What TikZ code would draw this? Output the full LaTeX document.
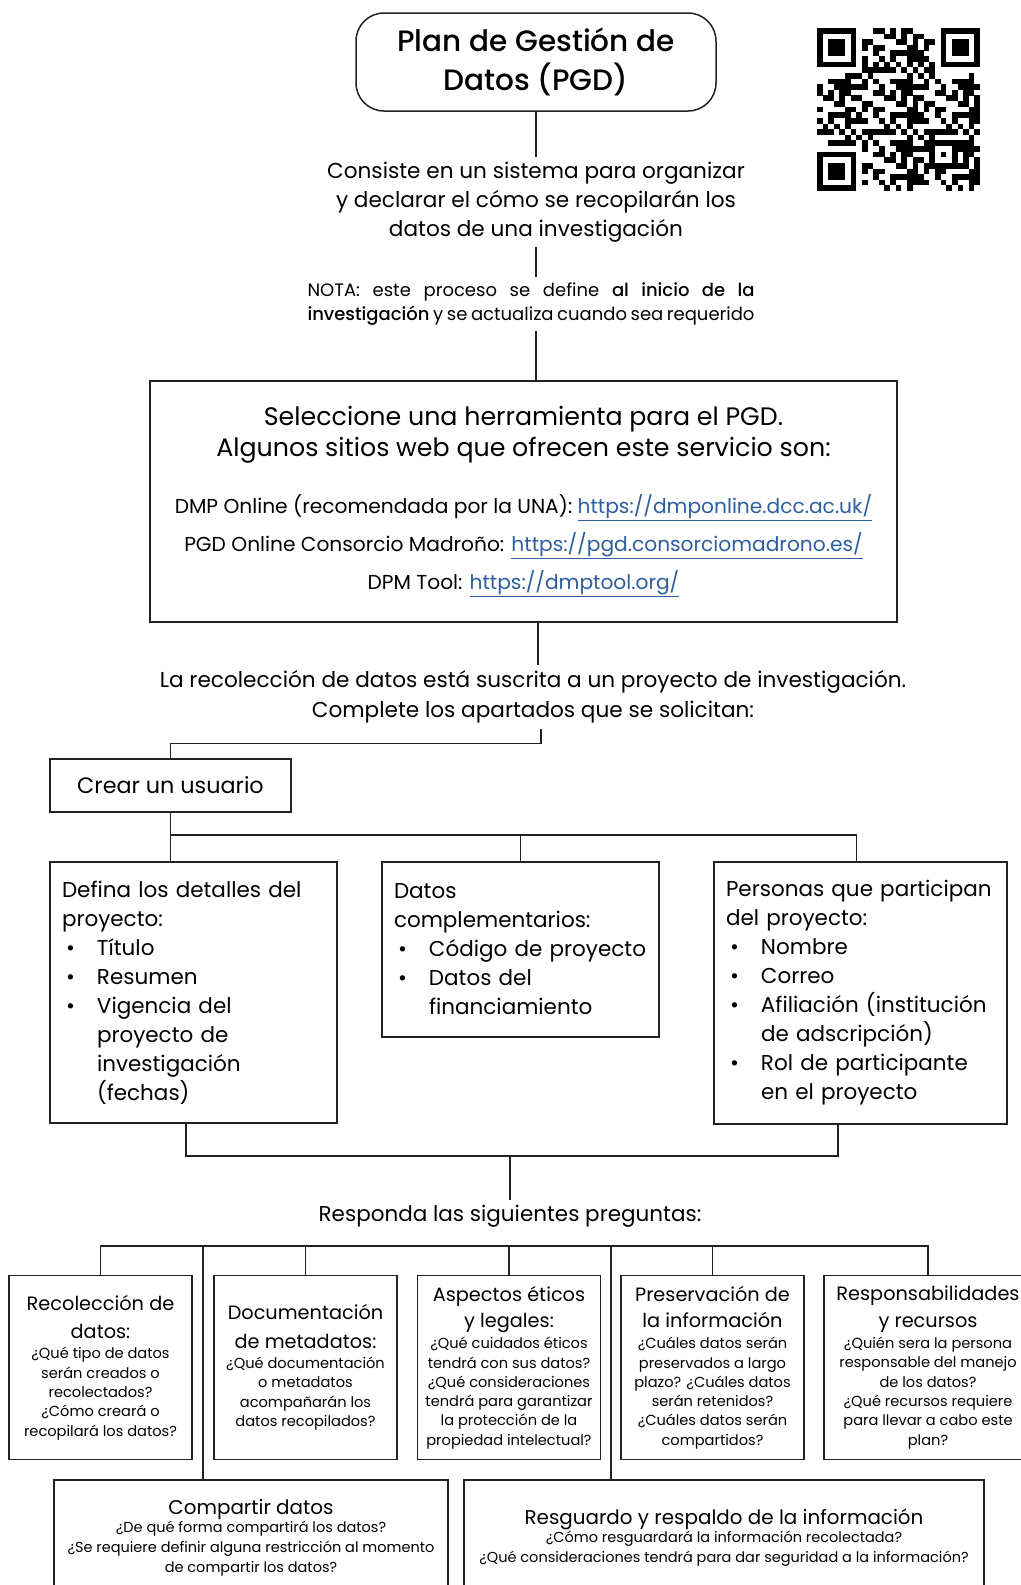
\documentclass[tikz,border=0pt]{standalone}
\usepackage{fontspec}
\setmainfont{Poppins}
\newfontfamily\medio{Poppins Medium}
\usepackage{xcolor}
\usepackage{tikz}
\usetikzlibrary{calc}
\definecolor{enlace}{HTML}{2F5E9E}
\definecolor{trazo}{HTML}{222222}
\newlength\px
\setlength\px{0.025cm}
\setlength\parindent{0pt}
\newcommand{\fpx}[2]{\fontsize{#1\px}{#2\px}\selectfont\lineskiplimit=-100pt\relax}
\newcommand{\link}[1]{\textcolor{enlace}{\underline{#1}}}
\newcommand{\vin}[1]{\hspace*{4\px}\makebox[31\px][l]{\textbullet}\mbox{#1}}
\newcommand{\cont}{\hspace*{35\px}}
\newcommand{\sitio}{\fpx{20.2}{31}}
\newcommand{\qtit}{\fpx{19.3}{19.3}}
\newcommand{\btit}{\fpx{19.9}{20}}
\tikzset{
 linea/.style={draw=trazo, line width=1.5\px},
 caja/.style={linea, inner sep=0pt, align=center},
 texto/.style={inner sep=5\px, align=center},
 detalle/.style={caja, align=left, inner xsep=12\px, font=\fpx{21.5}{29}},
 pregunta/.style={caja, minimum width=183\px, minimum height=184\px, font=\fpx{14.6}{19.3}},
 final/.style={caja, minimum height=116\px, font=\fpx{14.5}{20}}
}

\begin{document}
\begin{tikzpicture}[x=0.025cm, y=-0.025cm]
\useasboundingbox (0,0) rectangle (1020,1585);
\fill[white] (0,0) rectangle (1020,1585);

\node[caja, rounded corners=28\px, minimum width=360\px, minimum height=98\px, font=\medio\fpx{29.5}{39}] (plan) at (536,62) {\raisebox{-4\px}{Plan de Gestión de}\\\raisebox{-4\px}{Datos (PGD)}};
\node[texto, font=\fpx{21.6}{29}] (consiste) at (536,202) {Consiste en un sistema para organizar\\y declarar el cómo se recopilarán los\\datos de una investigación};
\node[texto, font=\fpx{18}{24}] (nota) at (531,304) {\makebox[447\px][s]{NOTA: este proceso se define {\medio al inicio de la}}\\\makebox[447\px][s]{{\medio investigación} y se actualiza cuando sea requerido}};
\node[caja, minimum width=747\px, minimum height=241\px, font=\fpx{25.3}{31}] (herr) at (523.5,501.5) {Seleccione una herramienta para el PGD.\\Algunos sitios web que ofrecen este servicio son:\\[26\px]
 \sitio DMP Online (recomendada por la UNA): \link{https://dmponline.dcc.ac.uk/}\\[7\px]
 \sitio PGD Online Consorcio Madroño: \link{https://pgd.consorciomadrono.es/}\\[7\px]
 \sitio DPM Tool: \link{https://dmptool.org/}};
\node[texto, font=\fpx{21.6}{30}] (recol) at (533,697) {La recolección de datos está suscrita a un proyecto de investigación.\\Complete los apartados que se solicitan:};
\node[caja, minimum width=241\px, minimum height=53\px, font=\fpx{22.3}{29}] (usuario) at (170.5,785.5) {Crear un usuario};

\node[detalle, minimum height=261\px, text width=263\px] (detalles) at (193.5,992.5) {Defina los detalles del\\proyecto:\\\vin{Título}\\\vin{Resumen}\\\vin{Vigencia del}\\\cont proyecto de\\\cont investigación\\\cont (fechas)};
\node[detalle, minimum height=175\px, text width=253\px] (complem) at (520.5,949.5) {Datos\\complementarios:\\\vin{Código de proyecto}\\\vin{Datos del}\\\cont financiamiento};
\node[detalle, minimum height=262\px, text width=269\px] (personas) at (860.5,993) {Personas que participan\\del proyecto:\\\vin{Nombre}\\\vin{Correo}\\\vin{Afiliación (institución}\\\cont de adscripción)\\\vin{Rol de participante}\\\cont en el proyecto};

\node[texto, font=\fpx{21.5}{29}] (responda) at (510,1216) {Responda las siguientes preguntas:};

\node[pregunta] (recoleccion) at (100.5,1367.5) {\qtit Recolección de\\[9\px]\qtit datos:\\[1\px]¿Qué tipo de datos\\serán creados o\\recolectados?\\¿Cómo creará o\\recopilará los datos?};
\node[pregunta] (documentacion) at (305.5,1367.5) {\qtit Documentación\\[9\px]\qtit de metadatos:\\[1\px]¿Qué documentación\\o metadatos\\acompañarán los\\datos recopilados?};
\node[pregunta] (eticos) at (509,1367.5) {\qtit Aspectos éticos\\[7\px]\qtit y legales:\\[2\px]¿Qué cuidados éticos\\tendrá con sus datos?\\¿Qué consideraciones\\tendrá para garantizar\\la protección de la\\propiedad intelectual?};
\node[pregunta] (preservacion) at (712.5,1367.5) {\qtit Preservación de\\[7\px]\qtit la información\\[2\px]¿Cuáles datos serán\\preservados a largo\\plazo? ¿Cuáles datos\\serán retenidos?\\¿Cuáles datos serán\\compartidos?};
\node[pregunta, minimum width=208\px] (responsab) at (928,1367.5) {\qtit Responsabilidades\\[7\px]\qtit y recursos\\[2\px]¿Quién sera la persona\\responsable del manejo\\de los datos?\\¿Qué recursos requiere\\para llevar a cabo este\\plan?};

\node[final, minimum width=394\px] (compartir) at (251,1538) {\btit Compartir datos\\[-2\px]¿De qué forma compartirá los datos?\\¿Se requiere definir alguna restricción al momento\\de compartir los datos?};
\node[final, minimum width=520\px] (resguardo) at (724,1538) {\btit Resguardo y respaldo de la información\\[-2\px]¿Cómo resguardará la información recolectada?\\¿Qué consideraciones tendrá para dar seguridad a la información?};

\draw[linea] (plan) -- (consiste);
\draw[linea] (consiste.south) -- (consiste.south |- nota.north);
\draw[linea] (consiste.south |- nota.south) -- (consiste.south |- herr.north);
\draw[linea] ([xshift=14.5\px]herr.south) -- ([xshift=14.5\px]herr.south |- recol.north);
\draw[linea] ([xshift=8\px]recol.south) -- ++(0,15) -| (usuario.north);
\draw[linea] (usuario.south) -- (usuario.south |- detalles.north);
\draw[linea] (usuario.south) ++(0,22) coordinate (ramal) -| (complem.north);
\draw[linea] (ramal) -| ([xshift=-4\px]personas.north);
\draw[linea] ([xshift=-7.5\px]detalles.south) -- ++(0,32) coordinate (union) -| ([xshift=-22.5\px]personas.south);
\draw[linea] (responda.north) -- (responda.north |- union);
\draw[linea] (recoleccion.north) -- ++(0,-29) coordinate (bus) -| (responsab.north);
\foreach \q in {documentacion,eticos,preservacion}
 \draw[linea] (\q.north) -- (\q.north |- bus);
\draw[linea] ([xshift=-48\px]compartir.north) -- ([xshift=-48\px]compartir.north |- bus);
\draw[linea] ([xshift=-113\px]resguardo.north) -- ([xshift=-113\px]resguardo.north |- bus);

\foreach \fx/\fy in {0/0,22/0,0/22} {
 \fill (817+\fx*5.62,28+\fy*5.62) rectangle ++(7*5.62,7*5.62);
 \fill[white] (817+\fx*5.62+5.62,28+\fy*5.62+5.62) rectangle ++(5*5.62,5*5.62);
 \fill (817+\fx*5.62+2*5.62,28+\fy*5.62+2*5.62) rectangle ++(3*5.62,3*5.62);
}
\fill (817+20*5.62,28+20*5.62) rectangle ++(5*5.62,5*5.62);
\fill[white] (817+21*5.62,28+21*5.62) rectangle ++(3*5.62,3*5.62);
\fill (817+22*5.62,28+22*5.62) rectangle ++(5.62,5.62);
\foreach \i in {0,...,28} {
 \foreach \j in {0,...,28} {
  \pgfmathtruncatemacro\zona{or(or(and(\i<8,\j<8),and(\i<8,\j>20)),or(and(\i>20,\j<8),and(and(\i>19,\i<25),and(\j>19,\j<25))))}
  \pgfmathtruncatemacro\celda{ifthenelse(or(\i==6,\j==6),mod(\i+\j,2)==0,mod(\i*\i*3+\j*\j*5+\i*\j*2+\i*3+\j*2,11)<5)}
  \ifnum\zona=0 \ifnum\celda=1
   \fill (817+\j*5.62,28+\i*5.62) rectangle ++(5.7,5.7);
  \fi\fi
 }
}
\end{tikzpicture}
\end{document}
